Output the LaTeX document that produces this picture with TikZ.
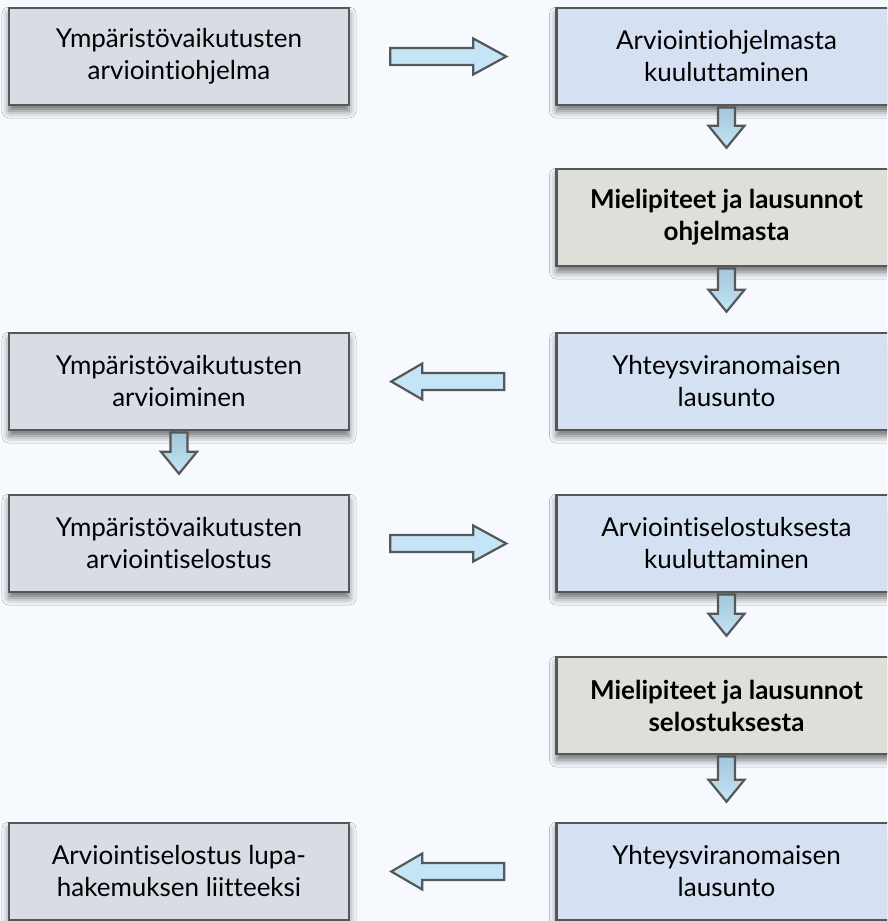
\documentclass[tikz,border=0pt]{standalone}
\usepackage{fontspec}
\setmainfont{Lato}[Ligatures=NoCommon]
\usetikzlibrary{calc,shadows.blur}

\definecolor{bgcol}{HTML}{F6FAFE}
\definecolor{graybox}{HTML}{D9DBE5}
\definecolor{bluebox}{HTML}{D5E0F2}
\definecolor{greenbox}{HTML}{DCE0D9}
\definecolor{edgecol}{HTML}{575757}
\definecolor{arrlight}{HTML}{C3E5F5}
\definecolor{arrdark}{HTML}{A3C6DA}

\tikzset{
  stage/.style={draw=edgecol, line width=2.5pt, minimum width=340pt, minimum height=97pt,
    inner sep=0pt, align=center, font=\fontsize{26}{32}\selectfont,
    blur shadow={shadow xshift=0pt, shadow yshift=-6pt, shadow blur radius=7pt, shadow opacity=55}},
  ownstage/.style={stage, fill=graybox},
  pubstage/.style={stage, fill=bluebox},
  opinstage/.style={stage, fill=greenbox, font=\fontsize{26}{32}\selectfont\bfseries},
  blockarrow/.style={draw=edgecol, line width=2.2pt, line join=miter, fill=arrlight},
  downshade/.style={top color=arrdark, bottom color=arrlight}
}

% block arrow: [style]{from}{to}{gap at start}{gap at end}{head length}
\newcommand{\flowarrow}[6][]{%
  \coordinate (fa-s) at ($(#2)!#4!(#3)$);
  \coordinate (fa-e) at ($(#3)!#5!(#2)$);
  \coordinate (fa-h) at ($(fa-e)!#6!(fa-s)$);
  \filldraw[blockarrow, #1] ($(fa-s)!8.5pt!90:(fa-e)$) -- ($(fa-h)!8.5pt!90:(fa-e)$)
    -- ($(fa-h)!18pt!90:(fa-e)$) -- (fa-e) -- ($(fa-h)!18pt!-90:(fa-e)$)
    -- ($(fa-h)!8.5pt!-90:(fa-e)$) -- ($(fa-s)!8.5pt!-90:(fa-e)$) -- cycle;
}

\begin{document}
\begin{tikzpicture}[x=1pt, y=-1pt]
  \useasboundingbox (0,0) rectangle (887,921);
  \clip (0,0) rectangle (887,921);
  \fill[bgcol] (0,0) rectangle (887,921);

  % left column
  \node[ownstage] (l1) at (179,56.5) {Ympäristövaikutusten\\arviointiohjelma};
  \node[ownstage] (l3) at (179,381.5) {Ympäristövaikutusten\\arvioiminen};
  \node[ownstage] (l4) at (179,543.5) {Ympäristövaikutusten\\arviointiselostus};
  \node[ownstage] (l6) at (179,871.5) {Arviointiselostus lupa-\\hakemuksen liitteeksi};

  % right column
  \node[pubstage] (r1) at (726.5,56.5) {Arviointiohjelmasta\\kuuluttaminen};
  \node[opinstage] (r2) at (726.5,217.5) {Mielipiteet ja lausunnot\\ohjelmasta};
  \node[pubstage] (r3) at (726.5,381.5) {Yhteysviranomaisen\\lausunto};
  \node[pubstage] (r4) at (726.5,543.5) {Arviointiselostuksesta\\kuuluttaminen};
  \node[opinstage] (r5) at (726.5,705.5) {Mielipiteet ja lausunnot\\selostuksesta};
  \node[pubstage] (r6) at (726.5,871.5) {Yhteysviranomaisen\\lausunto};

  % across
  \flowarrow{l1.east}{r1.west}{40pt}{49pt}{33pt}
  \flowarrow{r3.west}{l3.east}{51pt}{41pt}{31pt}
  \flowarrow{l4.east}{r4.west}{40pt}{49pt}{33pt}
  \flowarrow{r6.west}{l6.east}{51pt}{41pt}{31pt}

  % down
  \foreach \a/\b in {r1/r2, r2/r3, l3/l4, r4/r5, r5/r6} {
    \flowarrow[downshade]{\a.south}{\b.north}{1.2pt}{20pt}{22pt}
  }
\end{tikzpicture}
\end{document}
